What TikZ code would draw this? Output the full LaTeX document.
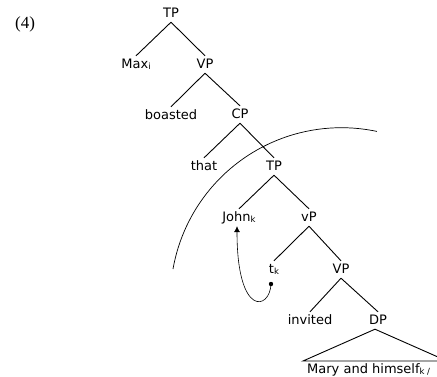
\documentclass[tikz,border=0pt]{standalone}
\usepackage{fontspec}
\setmainfont{DejaVu Sans}
\newfontfamily\exfont{Liberation Serif}
\usetikzlibrary{arrows.meta}
\newcommand{\sbs}[1]{\raisebox{-1.8pt}{\fontsize{8.5}{8.5}\selectfont #1}}
\begin{document}
\begin{tikzpicture}[x=1pt,y=1pt,
  cat/.style={anchor=base,inner sep=2.5pt,text height=9.5pt,text depth=2.5pt,font=\fontsize{13}{15}\selectfont},
  edge/.style={draw=black,line width=0.9pt},
  ]
\useasboundingbox (0,0) rectangle (437,-376);
\clip (0,0) rectangle (437,-376);
\node[anchor=base west,inner sep=0pt,font=\exfont\fontsize{17}{19}\selectfont] (ex) at (15,-28) {(4)};
\node[cat] (tp1) at (171,-17) {TP};
\node[cat] (max) at (136,-68) {Max\sbs{i}};
\node[cat] (vp1) at (205,-68) {VP};
\node[cat] (boasted) at (171,-119) {boasted};
\node[cat] (cp) at (240,-118) {CP};
\node[cat] (that) at (204,-170) {that};
\node[cat] (tp2) at (274,-170) {TP};
\node[cat] (john) at (239,-221) {John\sbs{k}};
\node[cat] (vp) at (309,-221) {vP};
\node[cat] (tk) at (274,-273) {t\sbs{k}};
\node[cat] (vp2) at (341,-273) {VP};
\node[cat] (invited) at (310,-324) {invited};
\node[cat] (dp) at (378,-324) {DP};
\node[cat,anchor=base west,inner sep=0pt] (mary) at (307,-373) {Mary and himself\sbs{k /}};
\draw[edge] (tp1.south) -- (max.north);
\draw[edge] (tp1.south) -- (vp1.north);
\draw[edge] (vp1.south) -- (boasted.north);
\draw[edge] (vp1.south) -- (cp.north);
\draw[edge] (cp.south) -- (that.north);
\draw[edge] (cp.south) -- (tp2.north);
\draw[edge] (tp2.south) -- (john.north);
\draw[edge] (tp2.south) -- (vp.north);
\draw[edge] (vp.south) -- (tk.north);
\draw[edge] (vp.south) -- (vp2.north);
\draw[edge] (vp2.south) -- (invited.north);
\draw[edge] (vp2.south) -- (dp.north);
\coordinate (triL) at (303,-361);
\coordinate (triR) at (447,-361);
\draw[edge] ([xshift=-3pt]dp.south) -- (triL) -- (triR) -- cycle;
% movement arrow
\coordinate (dot) at (271,-284);
\fill (dot) circle (2.2pt);
\draw[line width=0.6pt,-{Latex[length=6pt,width=6pt]}] (dot) .. controls (270,-310) and (237,-318) .. ([xshift=-2pt]john.south);
% arc
\coordinate (arcstart) at (173,-269);
\draw[line width=0.7pt] (arcstart) arc[start angle=170,end angle=78,radius=171];
\end{tikzpicture}
\end{document}
